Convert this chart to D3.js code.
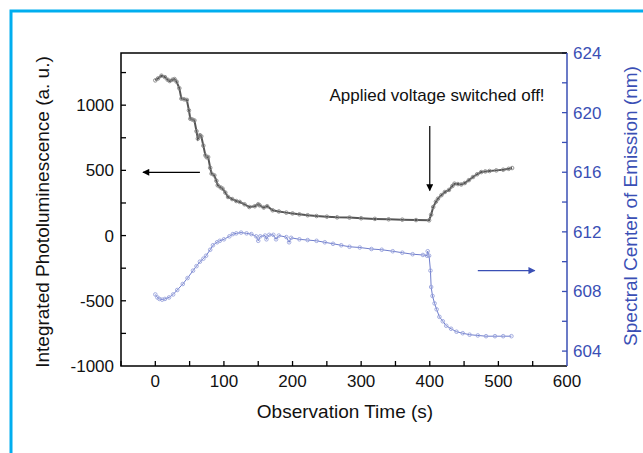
<!DOCTYPE html>
<html>
<head>
<meta charset="utf-8">
<script src="https://d3js.org/d3.v7.min.js"></script>
<style>
  body { margin: 0; background: #fff; }
  svg text { font-family: "Liberation Sans", Arial, sans-serif; }
</style>
</head>
<body>
<script>
// integrated photoluminescence (left axis), [time s, value a.u.]
var plData = [
  [0,1190],[4,1205],[9,1226],[14,1215],[18,1195],[21,1185],[25,1195],[28,1200],[31,1180],[35,1130],
  [38,1050],[42,1045],[46,1040],[49,960],[51,896],[54,890],[57,883],[60,800],[62,743],[65,770],
  [67,761],[70,690],[73,615],[75,600],[77,602],[80,520],[82,475],[86,462],[89,420],[91,385],
  [95,370],[98,360],[102,330],[106,296],[112,280],[118,265],[123,258],[130,240],[137,219],[145,225],
  [150,240],[152,232],[158,215],[163,225],[171,194],[180,185],[191,176],[200,170],[210,163],[222,156],
  [235,150],[250,145],[265,140],[283,138],[300,133],[320,128],[340,125],[360,122],[380,119],[399,117],
  [402,160],[405,219],[409,260],[412,283],[417,310],[422,334],[428,350],[433,380],[436,398],[441,395],
  [446,392],[451,403],[457,425],[463,449],[469,470],[475,487],[481,492],[487,495],[497,500],[507,505],
  [515,512],[520,518]
];
// spectral centre of emission (right axis), [time s, nm]
var specData = [
  [0,607.8],[3,607.6],[6,607.5],[10,607.45],[14,607.5],[20,607.6],[26,607.8],[32,608.1],[40,608.5],[47,608.9],
  [55,609.4],[60,609.7],[65,610.0],[70,610.2],[74,610.4],[80,610.8],[84,611.1],[90,611.3],[94,611.4],[100,611.5],
  [108,611.7],[113,611.85],[118,611.9],[125,611.95],[133,611.9],[140,611.85],[147,611.7],[150,611.4],[153,611.7],[160,611.75],
  [162,611.5],[166,611.8],[172,611.8],[176,611.5],[180,611.75],[191,611.65],[195,611.3],[198,611.6],[210,611.5],[222,611.45],
  [235,611.4],[247,611.3],[259,611.2],[271,611.1],[283,611.0],[298,610.95],[315,610.85],[330,610.8],[346,610.7],[360,610.6],
  [375,610.5],[390,610.45],[396,610.4],[397,610.7],[399,610.4],[401,609.4],[402,608.3],[404,607.7],[407,607.2],[410,606.8],
  [414,606.3],[419,606.0],[424,605.7],[431,605.5],[439,605.3],[448,605.2],[458,605.1],[470,605.05],[482,605.0],[495,605.0],
  [507,605.0],[519,605.0]
];
var xTicks = [0, 100, 200, 300, 400, 500, 600];
var leftTicks = [-1000, -500, 0, 500, 1000];
var rightTicks = [604, 608, 612, 616, 620, 624];

var W = 643, H = 453;
var L = 121, R = 567, T = 53, B = 366;
var blue = "#3a4fb5";

var svg = d3.select("body").append("svg").attr("width", W).attr("height", H);

// frame
svg.append("path").attr("d", "M11,453 V11 H643")
  .attr("fill", "none").attr("stroke", "#00aeef").attr("stroke-width", 3);

var x = d3.scaleLinear().domain([-50, 600]).range([L, R]);
var yL = d3.scaleLinear().domain([-1000, 1400]).range([B, T]);
var yR = d3.scaleLinear().domain([603, 624]).range([B, T]);

// ticks (inward)
var g = svg.append("g");
g.selectAll(".mx").data(d3.range(-50, 600, 50)).enter().append("line")
  .attr("x1", d => x(d)).attr("x2", d => x(d)).attr("y1", B).attr("y2", B - 5)
  .attr("stroke", "#000").attr("stroke-width", 1.3);
g.selectAll(".ml").data(d3.range(-750, 1400, 250)).enter().append("line")
  .attr("x1", L).attr("x2", L + 5).attr("y1", d => yL(d)).attr("y2", d => yL(d))
  .attr("stroke", "#000").attr("stroke-width", 1.3);
g.selectAll(".mr").data(d3.range(604, 625, 2)).enter().append("line")
  .attr("x1", R).attr("x2", R - 5).attr("y1", d => yR(d)).attr("y2", d => yR(d))
  .attr("stroke", blue).attr("stroke-width", 1.3);

// tick labels
svg.selectAll(".xl").data(xTicks).enter().append("text")
  .attr("x", d => x(d)).attr("y", 387).attr("text-anchor", "middle")
  .attr("font-size", 17).attr("fill", "#111").text(d => d);
svg.selectAll(".ll").data(leftTicks).enter().append("text")
  .attr("x", L - 7).attr("y", d => yL(d) + 6).attr("text-anchor", "end")
  .attr("font-size", 17).attr("fill", "#111").text(d => d);
svg.selectAll(".rl").data(rightTicks).enter().append("text")
  .attr("x", R + 6).attr("y", d => yR(d) + 6).attr("text-anchor", "start")
  .attr("font-size", 17).attr("fill", blue).text(d => d);

// axis titles
svg.append("text").attr("x", 345).attr("y", 418).attr("text-anchor", "middle")
  .attr("font-size", 19).attr("fill", "#111").text("Observation Time (s)");
svg.append("text").attr("transform", "translate(49,212) rotate(-90)")
  .attr("text-anchor", "middle").attr("font-size", 19).attr("fill", "#111")
  .text("Integrated Photoluminescence (a. u.)");
svg.append("text").attr("transform", "translate(637,206) rotate(-90)")
  .attr("text-anchor", "middle").attr("font-size", 19).attr("fill", blue)
  .text("Spectral Center of Emission (nm)");

// spectral series
var lineR = d3.line().x(d => x(d[0])).y(d => yR(d[1]));
svg.append("path").datum(specData).attr("d", lineR)
  .attr("fill", "none").attr("stroke", "#6f7dcc").attr("stroke-width", 1);
svg.selectAll(".sp").data(specData).enter().append("circle")
  .attr("cx", d => x(d[0])).attr("cy", d => yR(d[1])).attr("r", 1.8)
  .attr("fill", "none").attr("stroke", "#9aa4dc").attr("stroke-width", 0.9);

// photoluminescence series
var lineL = d3.line().x(d => x(d[0])).y(d => yL(d[1]));
svg.append("path").datum(plData).attr("d", lineL)
  .attr("fill", "none").attr("stroke", "#555").attr("stroke-width", 2);
svg.selectAll(".pl").data(plData).enter().append("circle")
  .attr("cx", d => x(d[0])).attr("cy", d => yL(d[1])).attr("r", 1.8)
  .attr("fill", "none").attr("stroke", "#888").attr("stroke-width", 0.9);

// axis frame
svg.append("path").attr("d", `M${R},${T} H${L} V${B} H${R}`)
  .attr("fill", "none").attr("stroke", "#000").attr("stroke-width", 1.5);
svg.append("line").attr("x1", R).attr("x2", R).attr("y1", T).attr("y2", B)
  .attr("stroke", blue).attr("stroke-width", 1.5);

// arrows + annotation
var defs = svg.append("defs");
function head(id, col) {
  defs.append("marker").attr("id", id).attr("viewBox", "0 0 10 10")
    .attr("refX", 9).attr("refY", 5).attr("markerWidth", 10).attr("markerHeight", 7)
    .attr("markerUnits", "userSpaceOnUse").attr("orient", "auto")
    .append("path").attr("d", "M0,0 L10,5 L0,10 z").attr("fill", col);
}
head("hk", "#000");
head("hb", blue);
svg.append("line").attr("x1", x(65)).attr("y1", yL(485)).attr("x2", x(-18)).attr("y2", yL(485))
  .attr("stroke", "#000").attr("stroke-width", 1.2).attr("marker-end", "url(#hk)");
svg.append("line").attr("x1", x(400)).attr("y1", yL(840)).attr("x2", x(400)).attr("y2", yL(345))
  .attr("stroke", "#000").attr("stroke-width", 1.2).attr("marker-end", "url(#hk)");
svg.append("line").attr("x1", x(470)).attr("y1", yR(609.4)).attr("x2", x(553)).attr("y2", yR(609.4))
  .attr("stroke", blue).attr("stroke-width", 1.2).attr("marker-end", "url(#hb)");
svg.append("text").attr("x", 437).attr("y", 101).attr("text-anchor", "middle")
  .attr("font-size", 17).attr("fill", "#111").text("Applied voltage switched off!");
</script>
</body>
</html>
